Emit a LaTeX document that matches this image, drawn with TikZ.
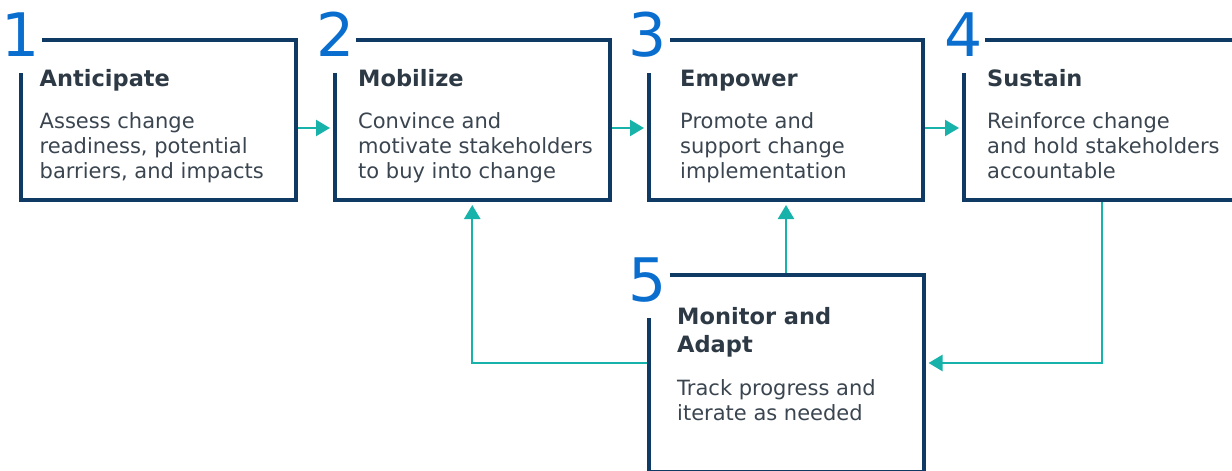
\documentclass[tikz,border=0pt]{standalone}
\usepackage{fontspec}
\setmainfont{DejaVu Sans}
\usetikzlibrary{arrows.meta}

\definecolor{navy}{HTML}{0F3A63}
\definecolor{teal}{HTML}{17B3AB}
\definecolor{numblue}{HTML}{0A6ECF}
\definecolor{headtxt}{HTML}{2D3944}
\definecolor{bodytxt}{HTML}{3A4550}

\tikzset{
  stage/.style={draw=none, inner sep=0pt, outer sep=0pt, rectangle},
  frame/.style={draw=navy, line width=4pt, line join=miter},
  flow/.style={draw=teal, line width=2.4pt, -{Triangle[length=14pt,width=16pt]}},
  stepnum/.style={inner sep=0pt, anchor=base, text=numblue,
    font=\fontsize{60}{60}\selectfont},
  heading/.style={inner sep=0pt, anchor=base west, text=headtxt,
    font=\fontsize{22.5}{28}\selectfont\bfseries},
  heading2/.style={inner sep=0pt, anchor=north west, align=left, text=headtxt,
    font=\fontsize{22.5}{28}\selectfont\bfseries},
  blurb/.style={inner sep=0pt, anchor=north west, align=left, text=bodytxt,
    font=\fontsize{21}{25}\selectfont},
}

\begin{document}
\begin{tikzpicture}[x=1pt, y=-1pt]
  \useasboundingbox (0,0) rectangle (1232,471);
  \clip (0,0) rectangle (1232,471);

  % stage boxes (placement and size only; the open frames are drawn below)
  \node[stage, minimum width=275pt,   minimum height=160pt] (b1) at (158.5,120) {};
  \node[stage, minimum width=274.5pt, minimum height=160pt] (b2) at (472.25,120) {};
  \node[stage, minimum width=274pt,   minimum height=160pt] (b3) at (786,120) {};
  \node[stage, minimum width=276pt,   minimum height=160pt] (b4) at (1102,120) {};
  \node[stage, minimum width=275pt,   minimum height=197pt] (b5) at (786,373.5) {};

  % connectors
  \draw[flow] ([yshift=-8pt]b1.east) -- ([yshift=-8pt,xshift=-5pt]b2.west);
  \draw[flow] ([yshift=-8pt]b2.east) -- ([yshift=-8pt,xshift=-5pt]b3.west);
  \draw[flow] ([yshift=-8pt]b3.east) -- ([yshift=-8pt,xshift=-5pt]b4.west);
  \draw[flow] (b5.north) -- ([yshift=-5pt]b3.south);
  \draw[flow] ([yshift=10.5pt]b5.west) -| ([yshift=-5pt]b2.south);
  \draw[flow] (b4.south) |- ([xshift=5pt,yshift=10.5pt]b5.east);

  % open frames, leaving a gap at the top-left corner for the step number
  \foreach \b in {b1,b2,b3,b4}{
    \draw[frame] ([xshift=21pt]\b.north west) -| (\b.south east)
                 -| ([yshift=-33pt]\b.north west);
  }
  \draw[frame] ([xshift=21pt]b5.north west) -| (b5.south east)
               -| ([yshift=-43pt]b5.north west);

  % step numbers
  \node[stepnum] (n1) at (20.5,56) {1};
  \node[stepnum] (n2) at (336,56) {2};
  \node[stepnum] (n3) at (648,56) {3};
  \node[stepnum] (n4) at (964,56) {4};
  \node[stepnum] (n5) at (648,301) {5};

  % headings
  \node[heading] (h1) at (39.5,86) {Anticipate};
  \node[heading] (h2) at (358,86) {Mobilize};
  \node[heading] (h3) at (680,86) {Empower};
  \node[heading] (h4) at (987,86) {Sustain};
  \node[heading2] (h5) at (677,304.4) {\strut Monitor and\\Adapt};

  % descriptions
  \node[blurb] (d1) at (39.5,110.5) {\strut Assess change\\readiness, potential\\barriers, and impacts};
  \node[blurb] (d2) at (358,110.5) {\strut Convince and\\motivate stakeholders\\to buy into change};
  \node[blurb] (d3) at (680,110.5) {\strut Promote and\\support change\\implementation};
  \node[blurb] (d4) at (987,110.5) {\strut Reinforce change\\and hold stakeholders\\accountable};
  \node[blurb] (d5) at (677,377.5) {\strut Track progress and\\iterate as needed};
\end{tikzpicture}
\end{document}
